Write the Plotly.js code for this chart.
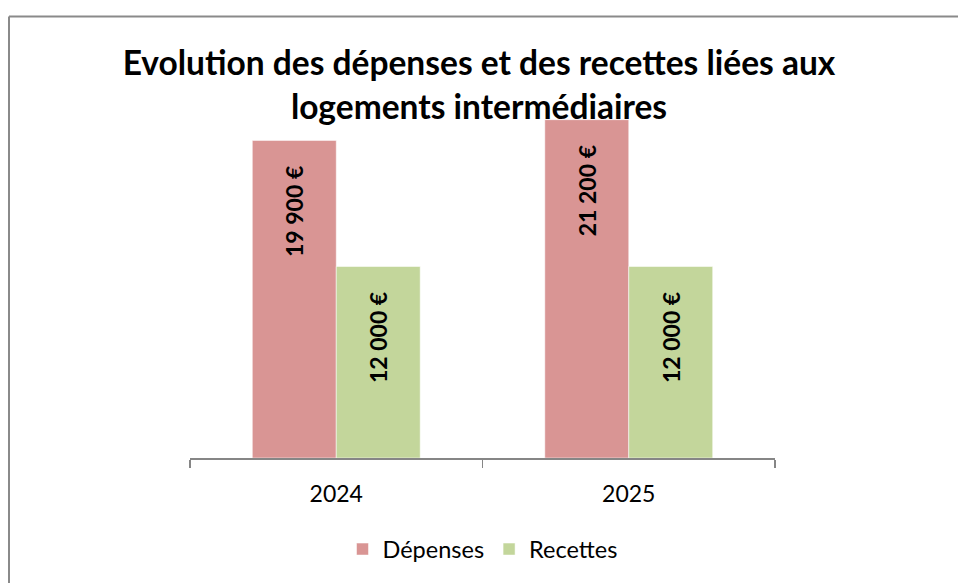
<!DOCTYPE html>
<html>
<head>
<meta charset="utf-8">
<script src="https://cdn.plot.ly/plotly-3.0.1.min.js"></script>
<style>
  html, body { margin: 0; padding: 0; background: #ffffff; }
  #chart { width: 958px; height: 583px; }
</style>
</head>
<body>
<div id="chart"></div>
<script>
// ---- Data ----
const years = ["2024", "2025"];
const depenses = [19900, 21200];
const recettes = [12000, 12000];
const seriesNames = ["Dépenses", "Recettes"];
const chartTitle = "Evolution des dépenses et des recettes liées aux<br>logements intermédiaires";

// ---- Helpers ----
function fmtEuro(v) {
  const s = String(Math.round(v));
  const withSep = s.replace(/\B(?=(\d{3})+(?!\d))/g, " ");
  return withSep + " €";
}
const pad = "\u00a0\u00a0\u00a0\u00a0";

const FONT = "Lato, 'Open Sans', sans-serif";

const traceDep = {
  type: "bar",
  name: seriesNames[0],
  x: years,
  y: depenses,
  text: depenses.map(fmtEuro),
  texttemplate: "%{text}" + pad,
  textposition: "inside",
  insidetextanchor: "end",
  textangle: -90,
  textfont: { family: FONT, size: 23, color: "#000000", weight: "bold" },
  marker: { color: "#D99594", line: { color: "rgba(255,255,255,0.5)", width: 1 } },
  hoverinfo: "skip"
};
const traceRec = {
  type: "bar",
  name: seriesNames[1],
  x: years,
  y: recettes,
  text: recettes.map(fmtEuro),
  texttemplate: "%{text}" + pad,
  textposition: "inside",
  insidetextanchor: "end",
  textangle: -90,
  textfont: { family: FONT, size: 23, color: "#000000", weight: "bold" },
  marker: { color: "#C3D69B", line: { color: "rgba(255,255,255,0.5)", width: 1 } },
  hoverinfo: "skip"
};

const layout = {
  width: 958,
  height: 583,
  margin: { l: 190, r: 183, t: 75, b: 122, pad: 0 },
  paper_bgcolor: "#ffffff",
  plot_bgcolor: "#ffffff",
  font: { family: FONT, color: "#000000" },
  title: {
    text: chartTitle,
    font: { family: FONT, size: 33.5, color: "#000000", weight: "bold" },
    x: 0.5,
    xanchor: "center",
    xref: "container",
    yref: "container",
    y: 1 - 75 / 583,
    yanchor: "middle"
  },
  barmode: "group",
  bargap: 0.426,
  bargroupgap: 0,
  xaxis: {
    type: "category",
    showline: true,
    linecolor: "#868686",
    linewidth: 1.5,
    ticks: "outside",
    tickson: "boundaries",
    ticklen: 8,
    tickwidth: 1.5,
    tickcolor: "#868686",
    ticklabelstandoff: 15,
    tickfont: { family: FONT, size: 23, color: "#000000" },
    showgrid: false,
    zeroline: false,
    fixedrange: true
  },
  yaxis: {
    range: [0, 24000],
    visible: false,
    showgrid: false,
    zeroline: false,
    fixedrange: true
  },
  showlegend: true,
  legend: {
    orientation: "h",
    x: 0.5,
    xanchor: "center",
    y: (461 - 553) / 386,
    yanchor: "middle",
    font: { family: FONT, size: 23.5, color: "#000000" },
    itemclick: false,
    itemdoubleclick: false
  },
  shapes: [
    {
      type: "line", xref: "paper", yref: "paper",
      x0: (9 - 190) / 585, x1: (9 - 190) / 585,
      y0: (461 - 16) / 386, y1: (461 - 600) / 386,
      line: { color: "#8a8a8a", width: 2 }
    },
    {
      type: "line", xref: "paper", yref: "paper",
      x0: (9 - 190) / 585, x1: (1000 - 190) / 585,
      y0: (461 - 16) / 386, y1: (461 - 16) / 386,
      line: { color: "#8a8a8a", width: 2 }
    }
  ],
  hovermode: false
};

Plotly.newPlot("chart", [traceDep, traceRec], layout, { displayModeBar: false, staticPlot: true });
</script>
</body>
</html>
